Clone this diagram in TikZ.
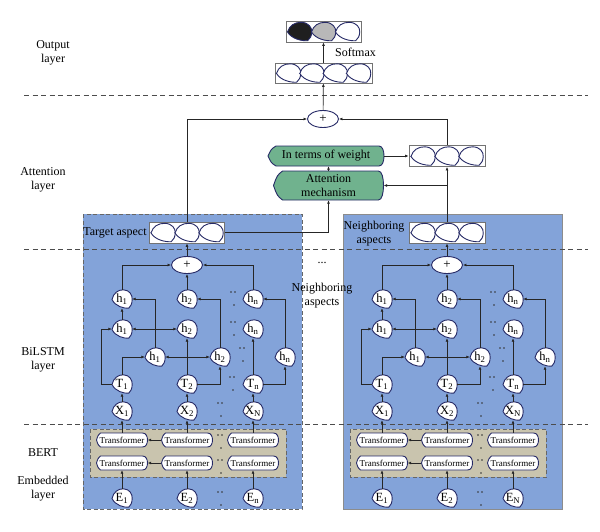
\documentclass[tikz,border=0pt]{standalone}
\usepackage{fontspec}
\setmainfont{Liberation Serif}
\usetikzlibrary{arrows.meta,shapes.geometric}

\definecolor{panelblue}{RGB}{131,163,217}
\definecolor{bertgray}{RGB}{201,196,174}
\definecolor{attgreen}{RGB}{112,178,142}
\definecolor{cellnavy}{RGB}{38,42,102}

\tikzset{
	arr/.style={-{Latex[length=3.5pt,width=3pt]}, line width=0.7pt, black!85},
	darr/.style={{Latex[length=3.5pt,width=3pt]}-{Latex[length=3.5pt,width=3pt]}, line width=0.7pt, black!85},
	layersep/.style={line width=0.8pt, black!70, dash pattern=on 5pt off 3.5pt},
	pk/.style={inner sep=0pt, minimum width=20pt, minimum height=18pt, font=\fontsize{12.5}{12.5}\selectfont},
	pkline/.style={draw=cellnavy, line width=0.9pt},
	trn/.style={inner sep=0pt, minimum width=51pt, minimum height=14pt, font=\fontsize{9}{9}\selectfont},
	dsp/.style={inner sep=0pt, align=center, font=\fontsize{12}{13.5}\selectfont},
	vbox/.style={draw=black!55, fill=white, line width=0.8pt, inner sep=0pt, minimum height=21pt},
	addnode/.style={ellipse, draw=cellnavy, fill=white, line width=0.9pt, inner sep=0pt, minimum width=31pt, minimum height=17pt, font=\fontsize{13}{13}\selectfont},
	lbl/.style={align=center, font=\fontsize{12}{14}\selectfont},
	lpanel/.style={fill=panelblue, draw=black!60, line width=0.8pt, dash pattern=on 4pt off 2.5pt},
	rpanel/.style={fill=panelblue, draw=black!45, line width=0.9pt},
	bertbox/.style={fill=bertgray, draw=black!60, line width=0.8pt, dash pattern=on 4pt off 2.5pt}
}

\newcommand{\pickshape}[2][]{%
	\draw[pkline, fill=white, shift={(#2)}, #1] (-10,0.5) .. controls (-8.5,-6) and (-4,-9.3) .. (1.5,-9.2) .. controls (7.5,-9) and (10.5,-4) .. (10.2,0.5) .. controls (10,4.5) and (9,7.2) .. (6.8,9.2) .. controls (2,9.6) and (-6.5,7.5) .. cycle;}
\newcommand{\pick}[3]{%
	\pickshape{#2}
	\node[pk] (#1) at (#2) {#3};}
\newcommand{\dispshape}[5]{%
	\draw[pkline, fill=#5, shift={(#1)}] (-#2,0) .. controls (-#2+0.4*#4,-0.7*#3) .. (-#2+#4,-#3) -- (#2-5,-#3) .. controls (#2-1.5,-#3) and (#2,-0.5*#3) .. (#2,0) .. controls (#2,0.5*#3) and (#2-1.5,#3) .. (#2-5,#3) -- (-#2+#4,#3) .. controls (-#2+0.4*#4,0.7*#3) .. cycle;}
\newcommand{\trans}[2]{%
	\dispshape{#2}{25.5}{7}{4}{white}
	\node[trn] (#1) at (#2) {Transformer};}
\newcommand{\dts}[2]{%
	\fill[black!80] (#1-2,#2) circle (0.8pt) (#1+2,#2) circle (0.8pt) (#1+1,#2+13) circle (0.8pt);}

\begin{document}
\begin{tikzpicture}[x=1pt,y=-1pt]
	\useasboundingbox (0,0) rectangle (600,531);
	
	\draw[lpanel] (83,214) rectangle (302,509);
	\draw[rpanel] (343,214) rectangle (562,509);
	\draw[bertbox] (90,429) rectangle (286,477);
	\draw[bertbox] (350,429) rectangle (546,477);
	
	\draw[layersep] (24,95) -- (588,95);
	\draw[layersep] (24,249) -- (588,249);
	\draw[layersep] (24,424) -- (588,424);
	
	\node[lbl] (outlbl) at (53,53) {Output\\layer};
	\node[lbl] (attlbl) at (43,180) {Attention\\layer};
	\node[lbl] (bilbl) at (43,360) {BiLSTM\\layer};
	\node[lbl] (bertlbl) at (43,453) {BERT};
	\node[lbl] (emblbl) at (43,489) {Embedded\\layer};
	
	\node[vbox, minimum width=75pt] (softvec) at (323.5,31.5) {};
	\pickshape[fill=black!88, xscale=1.2]{299.5,31.5}
	\pickshape[fill=black!28, xscale=1.2]{323.5,31.5}
	\pickshape[xscale=1.2]{347.5,31.5}
	\node[vbox, minimum width=97pt, minimum height=20pt] (outvec) at (323.5,73) {};
	\foreach \dx in {-35,-11.7,11.7,35} {\pickshape[xscale=1.2]{323.5+\dx,73}}
	\node[addnode] (tplus) at (323,119) {+};
	\draw[arr] (tplus) -- (outvec);
	\draw[arr] (outvec) -- (softvec);
	\node[right, inner sep=1pt, font=\fontsize{12}{14}\selectfont] (softlbl) at (334,52) {Softmax};
	
	\dispshape{326,156}{58}{10}{8}{attgreen}
	\node[dsp, minimum width=116pt, minimum height=20pt] (weight) at (326,156) {In terms of weight};
	\dispshape{328.5,185.5}{55}{14.5}{9}{attgreen}
	\node[dsp, minimum width=110pt, minimum height=29pt] (attn) at (328.5,185.5) {Attention\\mechanism};
	\node[vbox, minimum width=76pt] (attvec) at (447,156) {};
	\foreach \dx in {-24,0,24} {\pickshape[xscale=1.2]{447+\dx,156}}
	
	\node[vbox, minimum width=75pt] (tgt) at (187,232.5) {};
	\foreach \dx in {-24,0,24} {\pickshape[xscale=1.2]{187+\dx,232.5}}
	\node[vbox, minimum width=76pt] (nbr) at (447,232.5) {};
	\foreach \dx in {-24,0,24} {\pickshape[xscale=1.2]{447+\dx,232.5}}
	\node[lbl] (tgtlbl) at (115,233) {Target aspect};
	\node[lbl] (nbrlbl) at (374,234) {Neighboring\\aspects};
	\node[lbl] (middots) at (322,263) {...};
	\node[lbl] (midlbl) at (322,296) {Neighboring\\aspects};
	
	\draw[arr] (tgt.north) |- (tplus.west);
	\draw[arr] (attvec.north) |- (tplus.east);
	\draw[arr] (weight) -- (attvec);
	\draw[arr] (attn.north) -- (attn.north |- weight.south);
	\draw[arr] (tgt.east) -| (attn.south);
	\draw[arr] (nbr) -- (attvec);
	\draw[arr] (nbr.north |- attn.east) -- (attn.east);
	
	% left column of aspects
	\node[addnode] (lplus) at (187,265) {+};
	\pick{lh1}{122,299}{h\textsubscript{1}}
	\pick{lh2}{187,299}{h\textsubscript{2}}
	\pick{lhn}{253,299}{h\textsubscript{n}}
	\pick{lf1}{122,329}{h\textsubscript{1}}
	\pick{lf2}{187,329}{h\textsubscript{2}}
	\pick{lfn}{253,329}{h\textsubscript{n}}
	\pick{lb1}{155,357}{h\textsubscript{1}}
	\pick{lb2}{220,357}{h\textsubscript{2}}
	\pick{lbn}{285,357}{h\textsubscript{n}}
	\pick{lt1}{122,384}{T\textsubscript{1}}
	\pick{lt2}{187,384}{T\textsubscript{2}}
	\pick{ltn}{253,384}{T\textsubscript{n}}
	\pick{lx1}{122,411}{X\textsubscript{1}}
	\pick{lx2}{187,411}{X\textsubscript{2}}
	\pick{lxn}{253,411}{X\textsubscript{N}}
	\trans{lta1}{122,440}
	\trans{lta2}{187,440}
	\trans{ltan}{253,440}
	\trans{ltb1}{122,463}
	\trans{ltb2}{187,463}
	\trans{ltbn}{253,463}
	\pick{le1}{122,498}{E\textsubscript{1}}
	\pick{le2}{187,498}{E\textsubscript{2}}
	\pick{len}{253,498}{E\textsubscript{n}}
	
	\draw[arr] (le1) -- (ltb1);
	\draw[arr] (le2) -- (ltb2);
	\draw[arr] (len) -- (ltbn);
	\draw[arr] (ltb2) -- (ltb1);
	\draw[arr] (lta2) -- (lta1);
	\draw[arr] (lta1) -- (lx1);
	\draw[arr] (lta2) -- (lx2);
	\draw[arr] (ltan) -- (lxn);
	\draw[arr] (lx1) -- (lt1);
	\draw[arr] (lx2) -- (lt2);
	\draw[arr] (lxn) -- (ltn);
	\draw[arr] (lt1.west) -- ++(-10,0) |- (lf1.west);
	\draw[arr] (lt1.north) |- (lb1.west);
	\draw[arr] (lt2) -- (lf2);
	\draw[arr] (lt2.east) -| (lb2.south);
	\draw[arr] (ltn) -- (lfn);
	\draw[arr] (ltn.east) -| (lbn.south);
	\draw[darr] (lf1) -- (lf2);
	\draw[darr] (lb1) -- (lb2);
	\draw[arr] (lf1) -- (lh1);
	\draw[arr] (lb1.north) |- (lh1.east);
	\draw[arr] (lb2.north) |- (lh2.east);
	\draw[arr] (lbn.north) |- (lhn.east);
	\draw[arr] (lh1.north) |- (lplus.west);
	\draw[arr] (lh2) -- (lplus);
	\draw[arr] (lhn.north) |- (lplus.east);
	\draw[arr] (lplus) -- (tgt);
	
	\dts{233}{292} \dts{233}{322} \dts{242}{348} \dts{232}{377}
	\dts{220}{403} \dts{220}{435} \dts{220}{460} \dts{220}{492}
	
	% right column of aspects
	\node[addnode] (rplus) at (447,265) {+};
	\pick{rh1}{382,299}{h\textsubscript{1}}
	\pick{rh2}{447,299}{h\textsubscript{2}}
	\pick{rhn}{513,299}{h\textsubscript{n}}
	\pick{rf1}{382,329}{h\textsubscript{1}}
	\pick{rf2}{447,329}{h\textsubscript{2}}
	\pick{rfn}{513,329}{h\textsubscript{n}}
	\pick{rb1}{415,357}{h\textsubscript{1}}
	\pick{rb2}{480,357}{h\textsubscript{2}}
	\pick{rbn}{545,357}{h\textsubscript{n}}
	\pick{rt1}{382,384}{T\textsubscript{1}}
	\pick{rt2}{447,384}{T\textsubscript{2}}
	\pick{rtn}{513,384}{T\textsubscript{n}}
	\pick{rx1}{382,411}{X\textsubscript{1}}
	\pick{rx2}{447,411}{X\textsubscript{2}}
	\pick{rxn}{513,411}{X\textsubscript{N}}
	\trans{rta1}{382,440}
	\trans{rta2}{447,440}
	\trans{rtan}{513,440}
	\trans{rtb1}{382,463}
	\trans{rtb2}{447,463}
	\trans{rtbn}{513,463}
	\pick{re1}{382,498}{E\textsubscript{1}}
	\pick{re2}{447,498}{E\textsubscript{2}}
	\pick{ren}{513,498}{E\textsubscript{N}}
	
	\draw[arr] (re1) -- (rtb1);
	\draw[arr] (re2) -- (rtb2);
	\draw[arr] (ren) -- (rtbn);
	\draw[arr] (rtb2) -- (rtb1);
	\draw[arr] (rta2) -- (rta1);
	\draw[arr] (rta1) -- (rx1);
	\draw[arr] (rta2) -- (rx2);
	\draw[arr] (rtan) -- (rxn);
	\draw[arr] (rx1) -- (rt1);
	\draw[arr] (rx2) -- (rt2);
	\draw[arr] (rxn) -- (rtn);
	\draw[arr] (rt1.west) -- ++(-10,0) |- (rf1.west);
	\draw[arr] (rt1.north) |- (rb1.west);
	\draw[arr] (rt2) -- (rf2);
	\draw[arr] (rt2.east) -| (rb2.south);
	\draw[arr] (rtn) -- (rfn);
	\draw[arr] (rtn.east) -| (rbn.south);
	\draw[darr] (rf1) -- (rf2);
	\draw[darr] (rb1) -- (rb2);
	\draw[arr] (rf1) -- (rh1);
	\draw[arr] (rb1.north) |- (rh1.east);
	\draw[arr] (rb2.north) |- (rh2.east);
	\draw[arr] (rbn.north) |- (rhn.east);
	\draw[arr] (rh1.north) |- (rplus.west);
	\draw[arr] (rh2) -- (rplus);
	\draw[arr] (rhn.north) |- (rplus.east);
	\draw[arr] (rplus) -- (nbr);
	
	\dts{493}{292} \dts{493}{322} \dts{502}{348} \dts{492}{377}
	\dts{480}{403} \dts{480}{435} \dts{480}{460} \dts{480}{492}
	
\end{tikzpicture}
\end{document}
